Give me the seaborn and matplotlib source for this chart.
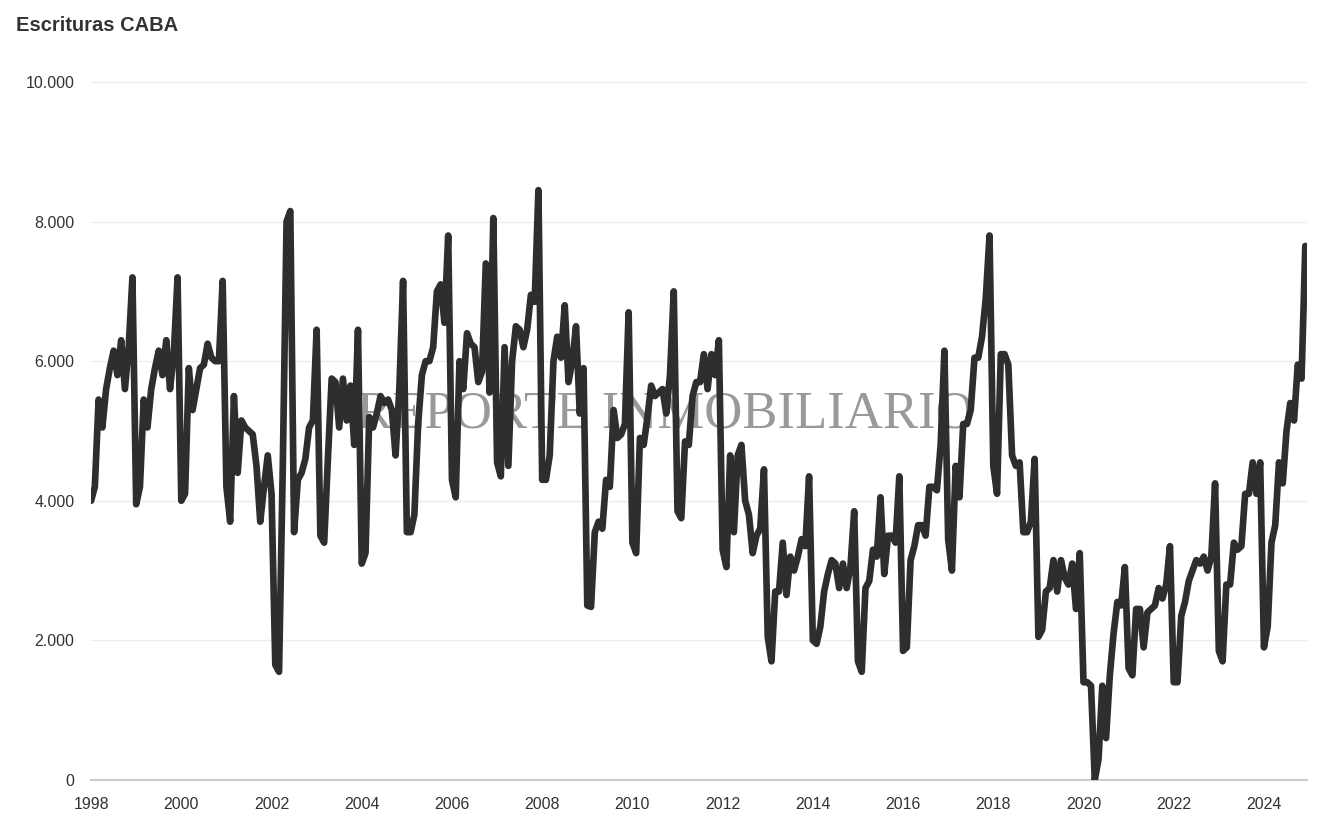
import matplotlib
matplotlib.use("Agg")
import matplotlib.pyplot as plt
import seaborn as sns
import pandas as pd
import numpy as np

years = list(range(1998, 2025))
values = {
1998: [4000, 4200, 5450, 5050, 5600, 5900, 6150, 5800, 6300, 5600, 6200, 7200],
1999: [3950, 4200, 5450, 5050, 5600, 5900, 6150, 5800, 6300, 5600, 6100, 7200],
2000: [4000, 4100, 5900, 5300, 5600, 5900, 5950, 6250, 6050, 6000, 6000, 7150],
2001: [4200, 3700, 5500, 4400, 5150, 5050, 5000, 4950, 4500, 3700, 4200, 4650],
2002: [4100, 1650, 1550, 4500, 8000, 8150, 3550, 4300, 4400, 4600, 5050, 5150],
2003: [6450, 3500, 3400, 4600, 5750, 5700, 5050, 5750, 5150, 5650, 4800, 6450],
2004: [3100, 3250, 5200, 5050, 5250, 5500, 5400, 5450, 5300, 4650, 5600, 7150],
2005: [3550, 3550, 3800, 5100, 5800, 6000, 6000, 6200, 7000, 7100, 6550, 7800],
2006: [4300, 4050, 6000, 5600, 6400, 6250, 6200, 5700, 5850, 7400, 5550, 8050],
2007: [4550, 4350, 6200, 4500, 6000, 6500, 6450, 6200, 6450, 6950, 6850, 8450],
2008: [4300, 4300, 4650, 6000, 6350, 6050, 6800, 5700, 6000, 6500, 5250, 5900],
2009: [2500, 2480, 3550, 3700, 3600, 4300, 4200, 5300, 4900, 4950, 5100, 6700],
2010: [3400, 3250, 4900, 4800, 5200, 5650, 5500, 5550, 5600, 5250, 5800, 7000],
2011: [3850, 3750, 4850, 4800, 5500, 5700, 5700, 6100, 5600, 6100, 5800, 6300],
2012: [3300, 3050, 4650, 3550, 4650, 4800, 4000, 3800, 3250, 3500, 3600, 4450],
2013: [2050, 1700, 2700, 2700, 3400, 2650, 3200, 3000, 3200, 3450, 3350, 4350],
2014: [2000, 1950, 2200, 2700, 2950, 3150, 3100, 2750, 3100, 2750, 3050, 3850],
2015: [1700, 1550, 2750, 2850, 3300, 3200, 4050, 2950, 3500, 3500, 3400, 4350],
2016: [1850, 1900, 3150, 3350, 3650, 3650, 3500, 4200, 4200, 4150, 4800, 6150],
2017: [3450, 3000, 4500, 4050, 5100, 5100, 5300, 6050, 6050, 6350, 6900, 7800],
2018: [4500, 4100, 6100, 6100, 5950, 4650, 4500, 4550, 3550, 3550, 3700, 4600],
2019: [2050, 2150, 2700, 2750, 3150, 2700, 3150, 2900, 2800, 3100, 2450, 3250],
2020: [1400, 1400, 1350, 0, 300, 1350, 600, 1500, 2100, 2550, 2500, 3050],
2021: [1600, 1500, 2450, 2450, 1900, 2400, 2450, 2500, 2750, 2600, 2800, 3350],
2022: [1400, 1400, 2350, 2550, 2850, 3000, 3150, 3100, 3200, 3000, 3200, 4250],
2023: [1850, 1700, 2800, 2800, 3400, 3300, 3350, 4100, 4100, 4550, 4100, 4550],
2024: [1900, 2200, 3400, 3650, 4550, 4250, 5000, 5400, 5150, 5950, 5750, 7650],
}
ytick_vals = [0, 2000, 4000, 6000, 8000, 10000]
ytick_labels = ["0", "2.000", "4.000", "6.000", "8.000", "10.000"]
xtick_years = list(range(1998, 2025, 2))

rows = []
for y in years:
    for m, v in enumerate(values[y]):
        rows.append({"t": y + m / 12.0, "v": v})
df = pd.DataFrame(rows)

sns.set_theme(style="white")
plt.rcParams['font.family'] = ['Liberation Sans', 'DejaVu Sans']
fig = plt.figure(figsize=(13.2, 8.36), dpi=100)
ax = fig.add_axes([0.069, 0.067, 0.921, 0.835])
sns.lineplot(data=df, x="t", y="v", ax=ax, color="#2e2e2e", linewidth=4.8, zorder=3)
ax.set_xlim(1998, 2024.95)
ax.set_ylim(0, 10000)
ax.set_yticks(ytick_vals)
ax.set_yticklabels(ytick_labels, fontsize=11.5, color="#333333")
ax.set_xticks(xtick_years)
ax.set_xticklabels([str(x) for x in xtick_years], fontsize=11.5, color="#333333")
ax.grid(axis="y", color="#ececec", linewidth=1)
ax.set_axisbelow(True)
for s in ["top", "right", "left"]:
    ax.spines[s].set_visible(False)
ax.spines["bottom"].set_color("#cccccc")
ax.spines["bottom"].set_linewidth(1.5)
ax.tick_params(axis="x", length=8, color="#cccccc", width=1.2, pad=4)
ax.tick_params(axis="y", length=0, pad=12)
ax.set_xlabel("")
ax.set_ylabel("")
ax.text(0.472, 0.523, "REPORTE INMOBILIARIO", transform=ax.transAxes, ha="center", va="center",
        fontsize=38, family="Liberation Serif", color="#555555", alpha=0.6, zorder=2)
fig.text(0.012, 0.969, "Escrituras CABA", fontsize=14.5, fontweight="bold", color="#333333", va="center")
fig.savefig("out.png", dpi=100)
